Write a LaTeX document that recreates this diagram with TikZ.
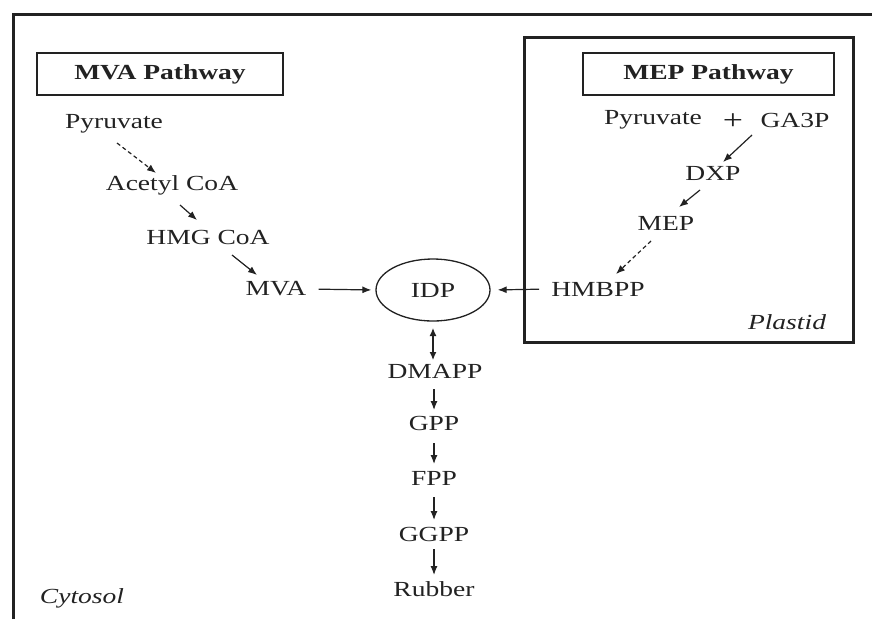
\documentclass[tikz,border=0pt]{standalone}
\usepackage{fontspec}
\setmainfont{Liberation Serif}[FakeStretch=1.28]
\usetikzlibrary{arrows.meta,shapes.geometric}
\definecolor{ink}{HTML}{222222}
\tikzset{
  lbl/.style={inner sep=0pt, text=ink, font=\fontsize{21.5}{26}\selectfont},
  ital/.style={lbl, font=\fontsize{21.5}{26}\selectfont\itshape},
  titlebox/.style={draw=ink, line width=1.3pt, minimum height=42pt, inner sep=0pt, text=ink, font=\fontsize{21.5}{26}\selectfont\bfseries},
  arr/.style={draw=ink, line width=1.2pt, -{Latex[length=9pt,width=7pt]}},
  darr/.style={draw=ink, line width=1.2pt, {Latex[length=8pt,width=7pt]}-{Latex[length=8pt,width=7pt]}},
  dash arr/.style={arr, dash pattern=on 4pt off 3pt},
  frame/.style={draw=ink, line width=3pt},
}
\begin{document}
\begin{tikzpicture}[x=1pt, y=-1pt]
\useasboundingbox (0,0) rectangle (872,619);
% outer cytosol frame (open at right and bottom)
\draw[frame] (13,619) -- (13,14) -- (872,14);
% plastid box
\draw[frame] (524,37) rectangle (853,342);

% title boxes
\node[titlebox, minimum width=246pt] (mvat) at (160,74) {MVA Pathway};
\node[titlebox, minimum width=251pt] (mept) at (708.5,74) {MEP Pathway};

% MVA pathway
\node[lbl] (pyr) at (114,124) {Pyruvate};
\node[lbl] (acoa) at (172,185) {Acetyl CoA};
\node[lbl] (hmg) at (208,237) {HMG CoA};
\node[lbl] (mva) at (276,289) {MVA};

% IDP
\node[draw=ink, line width=1.3pt, ellipse, minimum width=114pt, minimum height=62pt, inner sep=0pt] (idp) at (433,290) {};
\node[lbl] (idpt) at (433,290) {IDP};

% MEP pathway
\node[lbl] (pyr2) at (653,120) {Pyruvate};
\node[lbl, font=\fontsize{28}{30}\selectfont] (plus) at (733,122) {+};
\node[lbl] (ga3p) at (795,120) {GA3P};
\node[lbl] (dxp) at (713,173) {DXP};
\node[lbl] (mep) at (666,223) {MEP};
\node[lbl] (hmbpp) at (598,289) {HMBPP};
\node[ital] (plastid) at (787,322) {Plastid};

% downstream
\node[lbl] (dmapp) at (435,371) {DMAPP};
\node[lbl] (gpp) at (434,423) {GPP};
\node[lbl] (fpp) at (434,478) {FPP};
\node[lbl] (ggpp) at (434,534) {GGPP};
\node[lbl] (rubber) at (434,589) {Rubber};
\node[ital] (cytosol) at (82,598) {Cytosol};

% MVA arrows
\draw[dash arr] ([shift={(3,19)}]pyr.center) -- ([shift={(-16,-12)}]acoa.center);
\draw[arr] ([shift={(8,20)}]acoa.center) -- ([shift={(-11,-17)}]hmg.center);
\draw[arr] ([shift={(24,18)}]hmg.center) -- ([shift={(-19,-14)}]mva.center);
\draw[arr, shorten <=12pt, shorten >=4pt] (mva.east) -- (idp.west);

% MEP arrows
\draw[arr] ([shift={(-43,15)}]ga3p.center) -- ([shift={(10,-11)}]dxp.center);
\draw[arr] ([shift={(-13,17)}]dxp.center) -- ([shift={(13,-16)}]mep.center);
\draw[dash arr] ([shift={(-15,18)}]mep.center) -- ([shift={(18,-15)}]hmbpp.center);
\draw[arr, shorten <=12pt, shorten >=7pt] (hmbpp.west) -- (idp.east);

% downstream arrows
\draw[darr] ([shift={(0,38)}]idp.center) -- ([shift={(-2,-11)}]dmapp.center);
\draw[arr] ([shift={(-1,18)}]dmapp.center) -- ([shift={(0,-13)}]gpp.center);
\draw[arr] ([shift={(0,20)}]gpp.center) -- ([shift={(0,-14)}]fpp.center);
\draw[arr] ([shift={(0,19)}]fpp.center) -- ([shift={(0,-14)}]ggpp.center);
\draw[arr] ([shift={(0,15)}]ggpp.center) -- ([shift={(0,-14)}]rubber.center);
\end{tikzpicture}
\end{document}
